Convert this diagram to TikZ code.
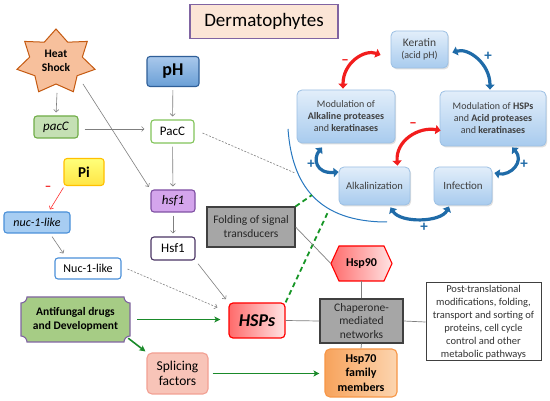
\documentclass[tikz,border=0pt]{standalone}
\usepackage{fontspec}
\setmainfont{Carlito}
\usetikzlibrary{arrows.meta,shadows,calc}
\newcommand{\fsz}[2]{\fontsize{#1}{#2}\selectfont}
\definecolor{cPurple}{HTML}{8064A2}
\definecolor{cTitle}{HTML}{FBE5D6}
\definecolor{cHeat}{HTML}{F7C09C}
\definecolor{cHeatB}{HTML}{C55A11}
\definecolor{cpHT}{HTML}{A9C8EB}
\definecolor{cpHM}{HTML}{6A9FD6}
\definecolor{cpHB}{HTML}{2F5F98}
\definecolor{cGreenF}{HTML}{C5E0B4}
\definecolor{cGreenB}{HTML}{70AD47}
\definecolor{cGreenB2}{HTML}{82C45A}
\definecolor{cYelT}{HTML}{FFFF7A}
\definecolor{cYelM}{HTML}{FFE545}
\definecolor{cYelB}{HTML}{FFC000}
\definecolor{cPurF}{HTML}{D4A5EC}
\definecolor{cPurB}{HTML}{7F4FA3}
\definecolor{cPurD}{HTML}{4B3564}
\definecolor{cBlueF}{HTML}{A7CDF2}
\definecolor{cBlueB}{HTML}{4A90D9}
\definecolor{cAntiF}{HTML}{A6CC85}
\definecolor{cHspL}{HTML}{FF6B6B}
\definecolor{cHspR}{HTML}{FFE4E4}
\definecolor{cSpliceF}{HTML}{F8C4B8}
\definecolor{cSpliceB}{HTML}{F2A093}
\definecolor{cGrayF}{HTML}{A6A6A6}
\definecolor{cGrayB}{HTML}{404040}
\definecolor{cHsevL}{HTML}{F7A35C}
\definecolor{cHsevR}{HTML}{FCD5B0}
\definecolor{cHsevB}{HTML}{F79646}
\definecolor{cycT}{HTML}{E2EEFA}
\definecolor{cycM}{HTML}{A8CBEE}
\definecolor{cycB}{HTML}{9CC0E4}
\definecolor{cArB}{HTML}{1F6BA8}
\definecolor{cArR}{HTML}{F21D1D}
\definecolor{cArc}{HTML}{2878C0}
\definecolor{cGreenA}{HTML}{1A8A2A}
\definecolor{cGrayL}{HTML}{7F7F7F}
\begin{document}
\begin{tikzpicture}[x=1pt,y=-1pt,
  box/.style={draw, line width=1.1pt, rounded corners=3pt, inner sep=0pt, align=center},
  sqbox/.style={draw=cGrayB, line width=1.1pt, fill=cGrayF, inner sep=0pt, align=center, text=black!85},
  cyc/.style={draw=cycB, line width=0.8pt, rounded corners=5pt, top color=cycT, bottom color=cycM, inner sep=0pt, align=center, text=black!75,
    drop shadow={opacity=0.25, shadow xshift=1.2pt, shadow yshift=-1.5pt}},
  garrow/.style={draw=cGrayL, line width=0.6pt, -{Straight Barb[length=2.5pt,width=5pt]}},
  gconn/.style={draw=cGrayL, line width=0.7pt},
  gdash/.style={draw=cGrayL, line width=0.6pt, dash pattern=on 2pt off 1.5pt},
  greenarrow/.style={draw=cGreenA, line width=1.6pt, -{Stealth[length=6pt,width=6pt,inset=1.5pt]}},
  greendash/.style={draw=cGreenA!90!green, line width=1.8pt, dash pattern=on 5pt off 3.5pt},
  cycarrow/.style={line width=3.2pt, {Triangle[length=5pt,width=9pt]}-{Triangle[length=5pt,width=9pt]}},
  sign/.style={inner sep=0pt, font=\fsz{15}{15}\bfseries}
]
\fill[white] (0,0) rectangle (550,401);
\useasboundingbox (0,0) rectangle (550,401);

% title
\node[draw=cPurple, line width=1.2pt, fill=cTitle, minimum width=148pt, minimum height=34pt, inner sep=0pt, font=\fsz{19}{22}] (title) at (264,21.5) {Dermatophytes};

% heat shock star
\coordinate (hc) at (56,62);
\draw[draw=cHeatB, line width=1pt, fill=cHeat] (hc) +(90:40pt and 33pt)
  \foreach \i in {0,...,6}{ -- +({90+(\i+0.5)*360/7}:27pt and 22pt) -- +({90+(\i+1)*360/7}:40pt and 33pt)} -- cycle;
\node[inner sep=0pt, align=center, font=\fsz{11.5}{14}\bfseries] (heat) at (56,61) {Heat\\Shock};
\coordinate (hsb) at (57,93);
\coordinate (hsd) at (83,84);

% left column nodes
\node[box, draw=cpHB, top color=cpHT, bottom color=cpHM, minimum width=52pt, minimum height=30pt, font=\fsz{18}{20}\bfseries] (pH) at (173,71.5) {pH};
\node[box, draw=cGreenB, fill=cGreenF, minimum width=44pt, minimum height=22pt, font=\fsz{13}{15}\itshape] (pacC) at (56,127) {pacC};
\node[box, draw=cGreenB2, fill=white, minimum width=43pt, minimum height=23pt, font=\fsz{13}{15}] (PacC) at (172.5,131.5) {PacC};
\node[box, draw=cYelB, top color=cYelT, bottom color=cYelM, minimum width=40pt, minimum height=27pt, font=\fsz{15}{17}\bfseries] (Pi) at (84,172) {Pi};
\node[box, draw=cPurB, fill=cPurF, minimum width=44pt, minimum height=22pt, font=\fsz{13}{15}\itshape] (hsf1) at (173,201) {hsf1};
\node[box, draw=cPurD, fill=white, minimum width=44pt, minimum height=23pt, font=\fsz{13}{15}] (Hsf1) at (173,248.5) {Hsf1};
\node[box, draw=cBlueB, fill=cBlueF, minimum width=66pt, minimum height=21pt, font=\fsz{12}{14}\itshape] (nuc) at (37,222.5) {nuc-1-like};
\node[box, draw=cBlueB, fill=white, minimum width=66pt, minimum height=21pt, font=\fsz{12}{14}] (Nuc) at (88,268.5) {Nuc-1-like};

% antifungal plaque
\draw[fill=cAntiF, draw=cPurple, line width=1.1pt]
  (27,297) -- (124,297) .. controls (124,300.3) and (126.7,303) .. (130,303)
  -- (130,336) .. controls (126.7,336) and (124,338.7) .. (124,342)
  -- (27,342) .. controls (27,338.7) and (24.3,336) .. (21,336)
  -- (21,303) .. controls (24.3,303) and (27,300.3) .. (27,297) -- cycle;
\node[inner sep=0pt, minimum width=109pt, minimum height=45pt, align=center, font=\fsz{11.5}{14}\bfseries] (anti) at (75.5,319.5) {Antifungal drugs\\and Development};

% central nodes
\node[box, draw=red, line width=1.2pt, left color=cHspL, right color=cHspR, rounded corners=4pt, minimum width=56pt, minimum height=35pt, font=\fsz{18}{20}\bfseries\itshape] (HSPs) at (257,320.5) {HSPs};
\node[box, draw=cSpliceB, fill=cSpliceF, rounded corners=5pt, minimum width=61pt, minimum height=41pt, font=\fsz{13.5}{15}] (Splice) at (177.5,373.5) {Splicing\\factors};
\node[sqbox, minimum width=88pt, minimum height=40pt, font=\fsz{11.5}{14}] (Fold) at (251,227) {Folding of signal\\transducers};
\draw[draw=red, line width=1.1pt, left color=cHspL, right color=cHspR]
  (331,263.5) -- (339,246) -- (384,246) -- (392,263.5) -- (384,281) -- (339,281) -- cycle;
\node[inner sep=0pt, minimum width=61pt, minimum height=35pt, font=\fsz{12}{14}\bfseries] (Hsp90) at (361.5,263.5) {Hsp90};
\node[sqbox, minimum width=83pt, minimum height=44pt, font=\fsz{11.5}{13.7}] (Chap) at (361.5,321) {Chaperone-\\mediated\\networks};
\node[box, draw=cHsevB, left color=cHsevL, right color=cHsevR, rounded corners=5pt, minimum width=72pt, minimum height=48pt, font=\fsz{12}{14.8}\bfseries] (Hsp70) at (361,373) {Hsp70\\family\\members};
\node[draw=cGrayB, line width=1pt, fill=white, inner sep=0pt, minimum width=115pt, minimum height=78pt, align=center, text=black!80, font=\fsz{10.5}{12.9}] (Post) at (483.5,322) {Post-translational\\modifications, folding,\\transport and sorting of\\proteins, cell cycle\\control and other\\metabolic pathways};

% cycle nodes
\node[cyc, minimum width=57pt, minimum height=37pt] (Ker) at (419.5,49.5) {{\fsz{11.5}{14}Keratin}\\{\fsz{10}{12}(acid pH)}};
\node[cyc, minimum width=98pt, minimum height=53pt, font=\fsz{10}{12}] (ModA) at (346,116.5) {Modulation of\\\textbf{Alkaline proteases}\\and \textbf{keratinases}};
\node[cyc, minimum width=106pt, minimum height=55pt, font=\fsz{10}{12}] (ModH) at (493,118.5) {Modulation of \textbf{HSPs}\\and \textbf{Acid proteases}\\and \textbf{keratinases}};
\node[cyc, minimum width=71pt, minimum height=38pt, font=\fsz{10.5}{12}] (Alk) at (374.5,186) {Alkalinization};
\node[cyc, minimum width=58pt, minimum height=38pt, font=\fsz{11}{13}] (Inf) at (463,186) {Infection};

% blue arc
\coordinate (arcS) at (288,129);
\coordinate (arcE) at (387,222);
\draw[draw=cArc, line width=1pt] (arcS) .. controls (292,185) and (318,222) .. (arcE);

% cycle arrows
\coordinate (r1s) at ($(ModA.north)+(-3,-1)$);
\coordinate (r1e) at ($(Ker.west)+(-10,5.5)$);
\draw[cycarrow, draw=cArR] (r1s) .. controls +(0,-26) and +(-16,-6) .. (r1e);
\coordinate (b1s) at ($(Ker.east)+(4,3)$);
\coordinate (b1e) at ($(ModH.north)+(-3,-1)$);
\draw[cycarrow, draw=cArB] (b1s) .. controls +(16,-5) and +(0,-26) .. (b1e);
\coordinate (b2s) at ($(ModH.south)+(19,1)$);
\coordinate (b2e) at ($(Inf.east)+(2,-13)$);
\draw[cycarrow, draw=cArB] (b2s) .. controls +(13,14) and +(16,3) .. (b2e);
\coordinate (b3s) at ($(Inf.south)+(-14,1)$);
\coordinate (b3e) at ($(Alk.south)+(16,2)$);
\draw[cycarrow, draw=cArB] (b3s) .. controls +(-8,16) and +(10,16) .. (b3e);
\coordinate (b4s) at ($(Alk.west)+(0,-14)$);
\coordinate (b4e) at ($(ModA.south)+(-24,4)$);
\draw[cycarrow, draw=cArB] (b4s) .. controls +(-23,2) and +(-9,11) .. (b4e);
\coordinate (r2s) at ($(Alk.north)+(23,-1)$);
\coordinate (r2e) at ($(ModH.west)+(1,12)$);
\draw[cycarrow, draw=cArR] (r2s) .. controls +(-2,-25) and +(-22,-4) .. (r2e);

% signs
\node[sign, text=cArR] (m1) at (345,62) {–};
\node[sign, text=cArB] (p1) at (488,56) {+};
\node[sign, text=cArB] (p2) at (524,164) {+};
\node[sign, text=cArB] (p3) at (424,227) {+};
\node[sign, text=cArB] (p4) at (311,164) {+};
\node[sign, text=cArR] (m2) at (413,125) {–};
\node[sign, text=cArR, font=\fsz{13}{13}\bfseries] (m3) at (48,188) {–};

% left connectors
\draw[garrow, shorten >=3pt] (hsb) -- (pacC.north);
\draw[garrow, shorten >=3pt] (hsd) -- (hsf1.north west);
\draw[garrow, shorten <=3pt, shorten >=3pt] (pH) -- (PacC);
\draw[garrow] ($(pacC.east)+(6,2)$) -- ($(PacC.west)+(-6,-2.5)$);
\draw[garrow, shorten <=3pt, shorten >=3pt] (PacC) -- (hsf1);
\draw[garrow, shorten <=3pt, shorten >=3pt] (hsf1) -- (Hsf1);
\draw[garrow, shorten <=4pt, shorten >=4pt] (Hsf1.south east) -- (HSPs.north west);
\draw[draw=red!80, line width=0.6pt, -{Straight Barb[length=2.5pt,width=5pt]}] ($(Pi.south west)+(0,1.5)$) -- ($(nuc.north)+(13,-2)$);
\draw[garrow] ($(nuc.south)+(15,3)$) -- ($(Nuc.north west)+(9,-4)$);
\draw[garrow, dash pattern=on 2pt off 1.5pt] ($(Nuc.east)+(6,0.5)$) -- ($(HSPs.west)+(-11,-13)$);
\coordinate (pd) at (295,173);
\draw[gdash] ($(PacC.east)+(8,1.5)$) -- (pd);

% green connectors
\draw[greenarrow] ($(anti.east)+(7,0)$) -- ($(HSPs.west)+(-8,-1)$);
\draw[greenarrow] ($(anti.south east)+(-2,-4)$) -- ($(Splice.north west)+(-1,-1)$);
\draw[greenarrow] ($(Splice.east)+(4,0)$) -- ($(Hsp70.west)+(-5,0.5)$);
\coordinate (gd1) at (312,195);
\coordinate (gd2) at (328,212);
\draw[greendash] (Fold.north east) -- (gd1);
\draw[greendash] (HSPs.north east) -- (gd2);

% network lines
\draw[gconn] (Fold.east) -- (Hsp90.west);
\draw[gconn] (Hsp90.south) -- (Chap.north);
\draw[gconn] (HSPs.east) -- (Chap.west);
\draw[gconn] (Chap.east) -- (Post.west);
\draw[gconn] (Chap.south) -- (Hsp70.north);
\end{tikzpicture}
\end{document}
